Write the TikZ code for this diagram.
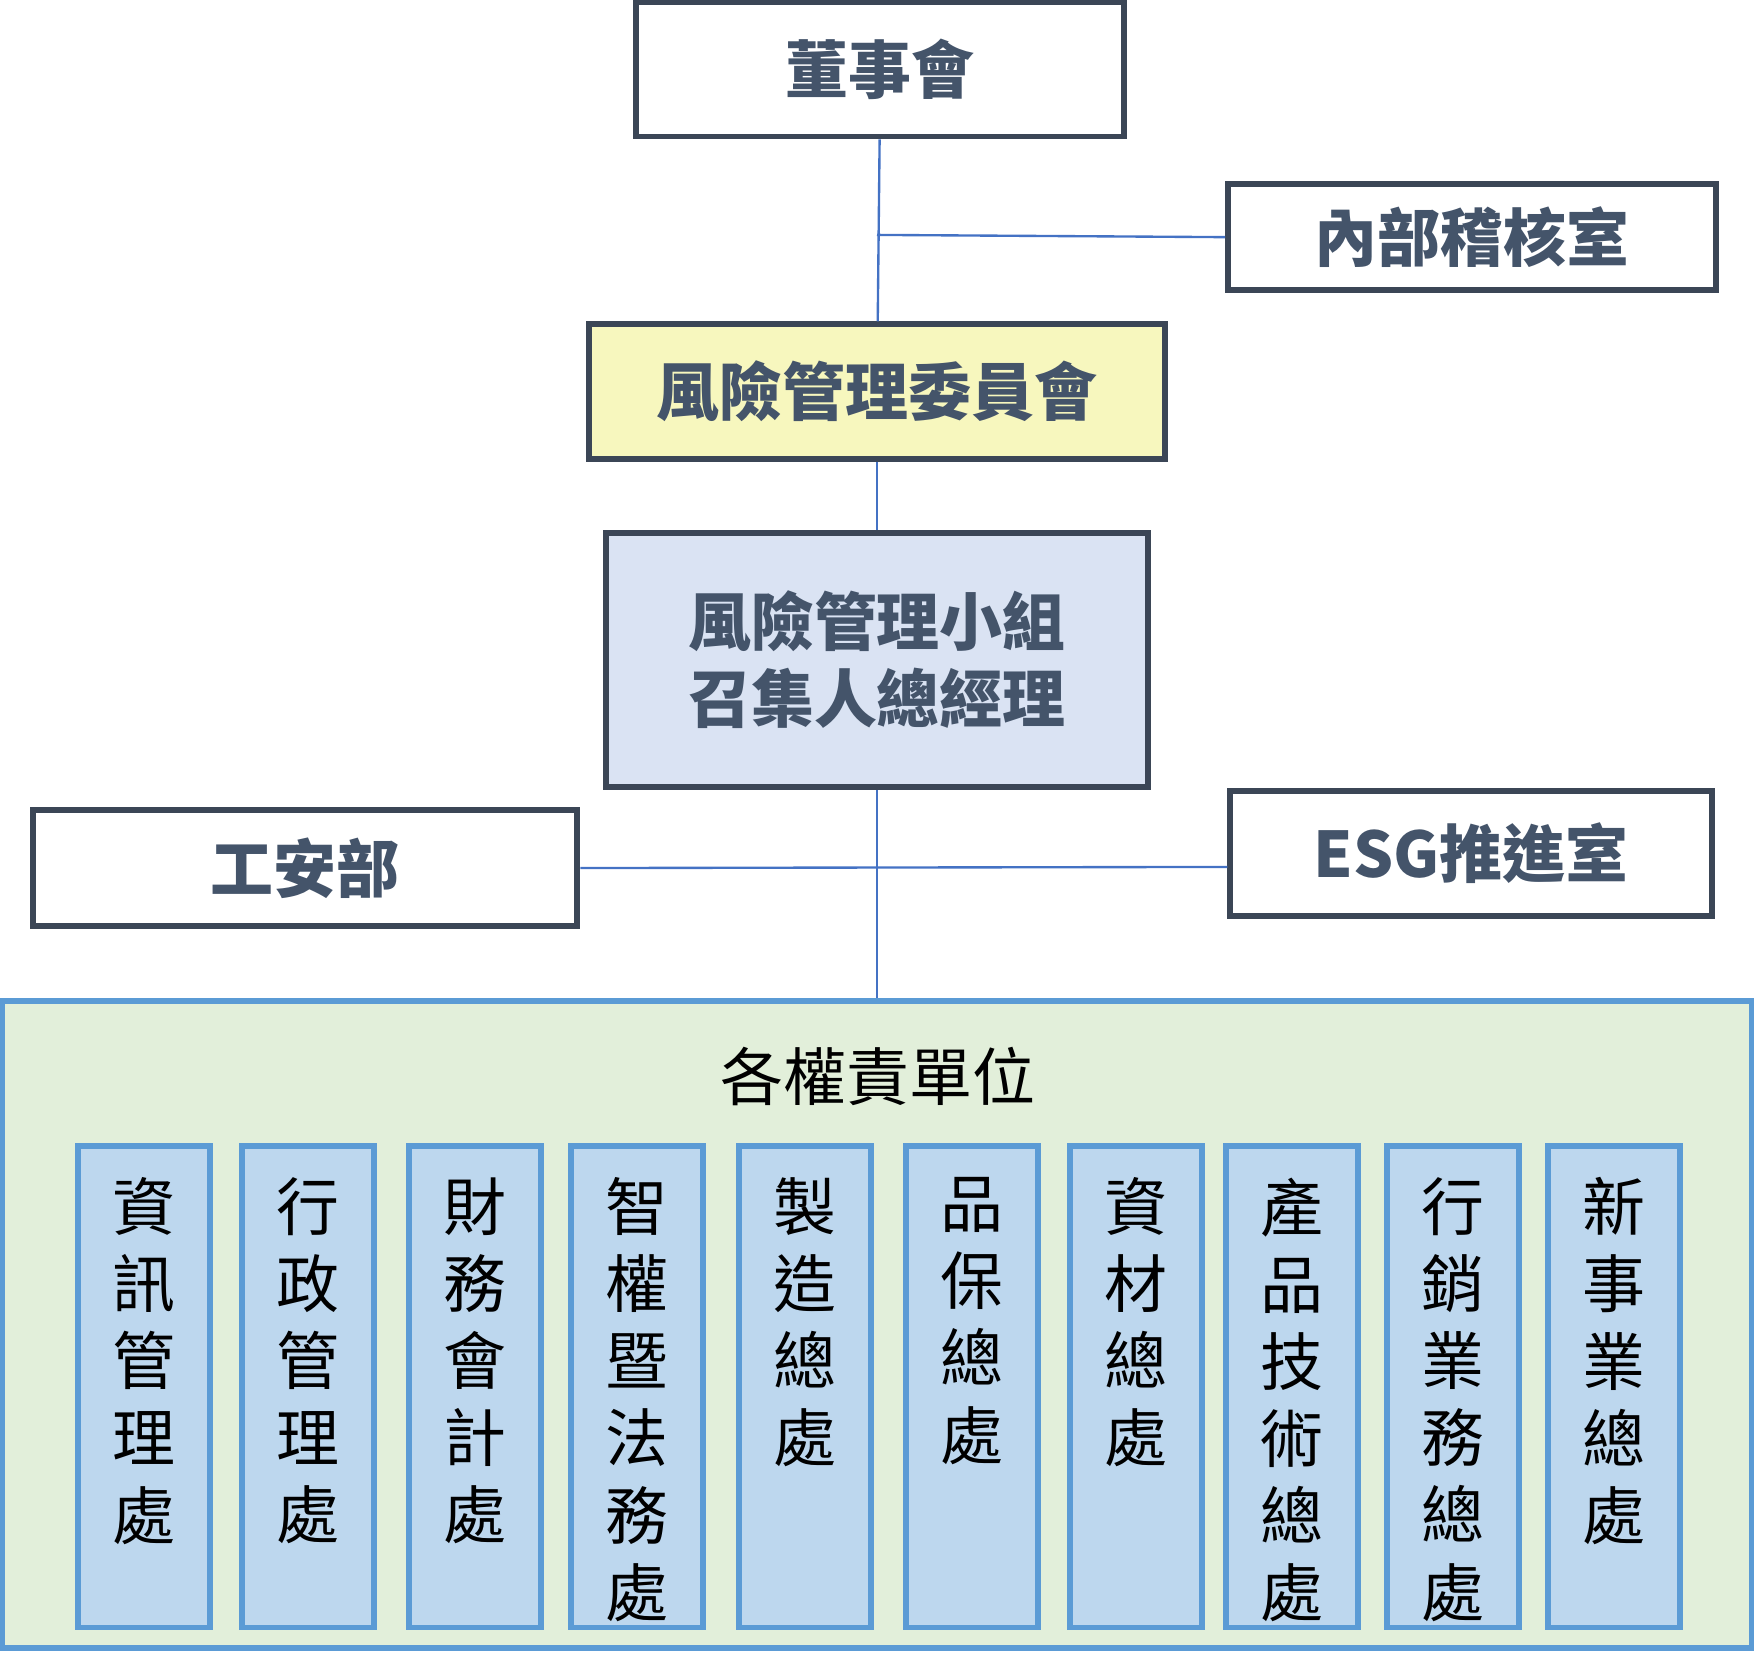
\documentclass[tikz,border=0pt]{standalone}
\usepackage{fontspec}
\setmainfont{Noto Sans CJK TC}
\usetikzlibrary{positioning}
\definecolor{txtgray}{HTML}{44546A}
\definecolor{boxline}{HTML}{3B4656}
\definecolor{linkblue}{HTML}{4472C4}
\definecolor{unitblue}{HTML}{5B9BD5}
\definecolor{ylw}{HTML}{F7F7BE}
\definecolor{lblue}{HTML}{DAE3F3}
\definecolor{lgreen}{HTML}{E2EFDA}
\definecolor{colblue}{HTML}{BDD7EE}
\begin{document}
\begin{tikzpicture}[x=0.01cm,y=-0.01cm,
  topbox/.style={draw=boxline,line width=1.5pt,font=\fontsize{16}{22}\selectfont\bfseries,text=txtgray,inner sep=0pt},
  unit/.style={draw=unitblue,line width=1.5pt,fill=colblue,minimum width=1.18cm,minimum height=4.3cm,inner sep=0pt},
  link/.style={linkblue,line width=0.6pt}]
  \useasboundingbox (0,0) rectangle (1568,1485);
  % big frame
  \node[draw=unitblue,line width=1.5pt,fill=lgreen,minimum width=15.64cm,minimum height=5.78cm,inner sep=0pt] (all) at (784,1184) {};
  \node[font=\fontsize{16}{20}\selectfont] (title) at (785,962) {各權責單位};
  % top boxes
  \node[topbox,minimum width=4.36cm,minimum height=1.2cm] (board) at (787,62) {董事會};
  \node[topbox,minimum width=4.36cm,minimum height=0.95cm] (audit) at (1316,212) {內部稽核室};
  \node[topbox,fill=ylw,minimum width=5.14cm,minimum height=1.2cm] (rmc) at (784,350) {風險管理委員會};
  \node[topbox,fill=lblue,minimum width=4.85cm,minimum height=2.27cm,align=center,font=\fontsize{16}{19.6}\selectfont\bfseries] (team) at (784,590) {風險管理小組\\召集人總經理};
  \node[topbox,minimum width=4.86cm,minimum height=1.03cm] (safety) at (273,776) {工安部};
  \node[topbox,minimum width=4.3cm,minimum height=1.12cm] (esg) at (1315,763) {ESG推進室};
  % connectors
  \coordinate (a1) at (784,210);
  \coordinate (a2) at (784,775);
  \draw[link] (board) -- (rmc);
  \draw[link] (a1) -- (audit.west);
  \draw[link] (rmc) -- (team);
  \draw[link] (team) -- (all.north -| team);
  \draw[link] (safety.east) -- (esg.west |- a2);
  % units
  \foreach \x/\t [count=\i] in {67/資\\訊\\管\\理\\處, 214/行\\政\\管\\理\\處, 363/財\\務\\會\\計\\處,
      508/智\\權\\暨\\法\\務\\處, 658/製\\造\\總\\處, 807/品\\保\\總\\處, 954/資\\材\\總\\處,
      1093/產\\品\\技\\術\\總\\處, 1237/行\\銷\\業\\務\\總\\處, 1381/新\\事\\業\\總\\處} {
    \node[unit,anchor=north west] (u\i) at (\x,1022) {};
    \node[anchor=north,align=center,font=\fontsize{16}{19.6}\selectfont,inner sep=0pt] (t\i) at ([yshift=-0.3cm]u\i.north) {\t};
  }
\end{tikzpicture}
\end{document}
